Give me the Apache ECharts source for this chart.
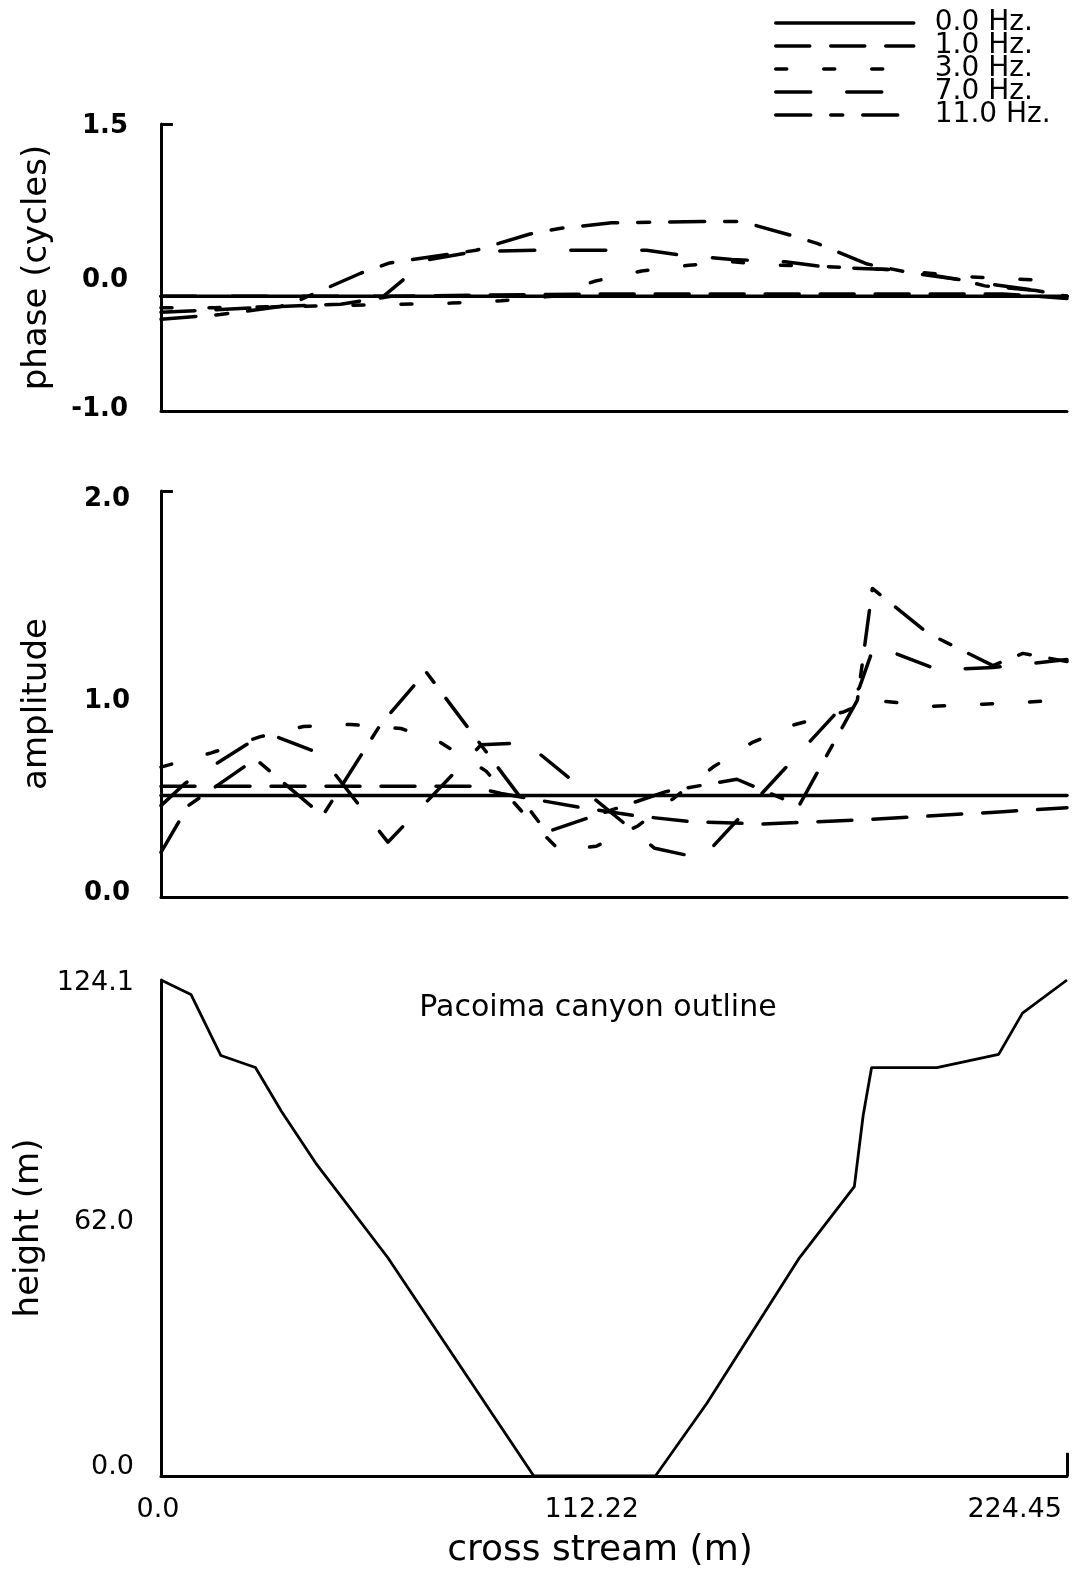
<!DOCTYPE html>
<html>
<head>
<meta charset="utf-8">
<script src="https://cdn.jsdelivr.net/npm/echarts@6/dist/echarts.min.js"></script>
<style>
html,body{margin:0;padding:0;background:#fff;}
#c{width:1076px;height:1572px;}
</style>
</head>
<body>
<div id="c"></div>
<script>
// ---- data ----
const seriesNames = ['0.0 Hz.', '1.0 Hz.', '3.0 Hz.', '7.0 Hz.', '11.0 Hz.'];
const xTickValues = [0, 112.22, 224.45];
const xTickLabels = ['0.0', '112.22', '224.45'];
const xMax = 236;

// phase (cycles)
const phaseX0 = [0, 236];
const phase0 = [0, 0];
const phaseX1 = [0, 31.1, 46.8, 59.9, 114.7, 219.3, 236.0];
const phase1 = [-0.14, -0.09, -0.07, 0.0, 0.02, 0.02, -0.02];
const phaseX3 = [0, 14.1, 49.4, 75.5, 88.6, 101.9, 112.9, 125.2, 137.5, 148.7, 160.5, 172.2, 190.5, 210.1, 221.9, 236.0];
const phase3 = [-0.10, -0.10, -0.08, -0.06, -0.04, 0.0, 0.13, 0.22, 0.27, 0.30, 0.27, 0.26, 0.23, 0.17, 0.15, 0.13];
const phaseX7 = [0, 58.0, 63.0, 66.4, 82.1, 98.3, 116.6, 126.5, 135.1, 148.7, 162.6, 174.3, 192.4, 208.8, 227.9, 236.0];
const phase7 = [0.0, 0.0, 0.14, 0.30, 0.39, 0.40, 0.40, 0.40, 0.36, 0.32, 0.30, 0.25, 0.23, 0.14, 0.05, 0.0];
const phaseX11 = [0, 15.4, 31.1, 36.3, 52.0, 59.6, 82.1, 95.9, 103.8, 117.4, 140.9, 151.3, 163.1, 170.9, 184.0, 195.8, 208.8, 214.6, 227.9, 236.0];
const phase11 = [-0.20, -0.16, -0.09, -0.03, 0.20, 0.29, 0.40, 0.54, 0.59, 0.64, 0.65, 0.65, 0.54, 0.46, 0.28, 0.20, 0.14, 0.09, 0.05, 0.0];
const phaseTicks = ['-1.0', '0.0', '1.5'];

// amplitude
const ampX0 = [0, 236];
const amp0 = [0.5, 0.5];
const ampX1 = [0, 80.8, 88.6, 109.5, 123.9, 138.3, 156.6, 182.7, 201.0, 219.3, 236.0];
const amp1 = [0.545, 0.545, 0.51, 0.44, 0.40, 0.37, 0.36, 0.38, 0.40, 0.42, 0.44];
const ampX3 = [0, 13.1, 25.9, 37.1, 49.4, 62.5, 72.9, 84.7, 96.4, 103.8, 113.4, 124.2, 133.8, 143.8, 153.9, 165.2, 177.5, 185.3, 201.0, 214.1, 236.0];
const amp3 = [0.64, 0.71, 0.79, 0.84, 0.85, 0.83, 0.76, 0.62, 0.37, 0.23, 0.25, 0.35, 0.49, 0.64, 0.76, 0.85, 0.91, 0.97, 0.94, 0.95, 0.97];
const ampX7 = [0, 6.3, 27.2, 41.0, 59.1, 83.4, 95.1, 128.6, 140.9, 181.9, 185.8, 202.3, 216.7, 236.0];
const amp7 = [0.45, 0.56, 0.81, 0.71, 0.27, 0.75, 0.76, 0.24, 0.19, 1.03, 1.24, 1.12, 1.13, 1.17];
const ampX11 = [0, 7.1, 24.6, 42.1, 57.2, 69.0, 100.4, 131.7, 150.0, 166.2, 181.4, 185.3, 199.7, 216.7, 224.5, 236.0];
const amp11 = [0.22, 0.45, 0.68, 0.40, 0.85, 1.11, 0.32, 0.52, 0.58, 0.45, 0.97, 1.52, 1.30, 1.14, 1.20, 1.16];
const ampTicks = ['0.0', '1.0', '2.0'];

// canyon outline
const canyonX = [0, 7.8, 15.6, 24.6, 31.4, 40.3, 59.1, 97.1, 128.8, 142.2, 166.3, 180.6, 182.9, 185.1, 202.1, 218.2, 224.4, 236.0];
const canyonH = [124.1, 120.5, 105.2, 102.2, 91.2, 78.3, 54.6, 0, 0, 18.2, 54.6, 72.4, 90.2, 102.2, 102.2, 105.5, 115.8, 124.1];
const heightTicks = ['0.0', '62.0', '124.1'];

// ---- chart ----
const FONT = 'DejaVu Sans';
const dashes = {
  '0.0 Hz.': 'solid',
  '1.0 Hz.': [34, 21],
  '3.0 Hz.': [11, 37],
  '7.0 Hz.': [35, 36],
  '11.0 Hz.': [35, 20, 12, 20]
};
function pairs(xs, ys) { return xs.map((x, i) => [x, ys[i]]); }
function lineSeries(name, xs, ys, gi, extra) {
  return Object.assign({
    name: name, type: 'line', xAxisIndex: gi, yAxisIndex: gi,
    data: pairs(xs, ys), symbol: 'none', showSymbol: false,
    lineStyle: { color: '#000', width: 3.5, type: dashes[name], cap: 'round', join: 'round' },
    itemStyle: { color: '#000' },
    z: 3
  }, extra || {});
}
function shiftStyle(fs, weight, pad) {
  return { fontFamily: FONT, fontSize: fs, fontWeight: weight, color: '#000', padding: pad };
}
const tickMark = (x0, x1, y0, y1) => ({
  silent: true, symbol: ['none', 'none'], label: { show: false },
  lineStyle: { color: '#000', width: 3, type: 'solid' },
  emphasis: { disabled: true },
  data: [[{ coord: [x0, y0] }, { coord: [x1, y1] }]]
});

function xAxisCfg(gi, showLabels) {
  return {
    type: 'value', gridIndex: gi, min: 0, max: xMax, interval: 112.22,
    axisLine: { show: true, onZero: false, lineStyle: { color: '#000', width: 3 } },
    axisTick: { show: false }, splitLine: { show: false },
    axisLabel: {
      show: showLabels, margin: 20, showMaxLabel: false,
      fontFamily: FONT, fontSize: 27, color: '#000',
      formatter: function (v) {
        for (let i = 0; i < xTickValues.length; i++) {
          if (Math.abs(v - xTickValues[i]) < 0.5) return '{t' + i + '|' + xTickLabels[i] + '}';
        }
        return '';
      },
      rich: {
        t0: shiftStyle(27, 'normal', [0, 6, 0, 0]),
        t1: shiftStyle(27, 'normal', [0, 0, 0, 0]),
        t2: shiftStyle(27, 'normal', [0, 16, 0, 0])
      }
    },
    name: showLabels ? 'cross stream (m)' : '',
    nameLocation: 'middle', nameGap: 57,
    nameTextStyle: { fontFamily: FONT, fontSize: 36, color: '#000', padding: [0, 28, 0, 0] }
  };
}

const option = {
  animation: false,
  backgroundColor: '#fff',
  title: {
    text: 'Pacoima canyon outline', left: 593, top: 988, textAlign: 'center',
    textStyle: { fontFamily: FONT, fontSize: 30, fontWeight: 'normal', color: '#000' }
  },
  legend: {
    data: seriesNames, orient: 'vertical', left: 769, top: 4,
    itemWidth: 138, itemHeight: 14, itemGap: -5, selectedMode: false,
    lineStyle: { width: 3.5 },
    itemStyle: { color: 'rgba(0,0,0,0)', borderWidth: 0, opacity: 0 },
    textStyle: { fontFamily: FONT, fontSize: 28, color: '#000', padding: [0, 0, 0, 16] }
  },
  grid: [
    { left: 161, right: 9, top: 124, height: 287 },
    { left: 161, right: 9, top: 491, height: 406 },
    { left: 161, right: 9, top: 980, height: 496 }
  ],
  xAxis: [xAxisCfg(0, false), xAxisCfg(1, false), xAxisCfg(2, true)],
  yAxis: [
    {
      type: 'value', gridIndex: 0, min: -1, max: 1.5, interval: 0.5,
      axisLine: { show: true, onZero: false, lineStyle: { color: '#000', width: 3 } },
      axisTick: { show: false }, splitLine: { show: false },
      axisLabel: {
        margin: 33, fontFamily: FONT, fontSize: 26, fontWeight: 'bold', color: '#000',
        formatter: function (v) {
          if (Math.abs(v + 1) < 1e-6) return '{a|' + phaseTicks[0] + '}';
          if (Math.abs(v) < 1e-6) return '{b|' + phaseTicks[1] + '}';
          if (Math.abs(v - 1.5) < 1e-6) return '{c|' + phaseTicks[2] + '}';
          return '';
        },
        rich: {
          a: shiftStyle(26, 'bold', [0, 0, 4, 0]),
          b: shiftStyle(26, 'bold', [0, 0, 32, 0]),
          c: shiftStyle(26, 'bold', [4, 0, 0, 0])
        }
      },
      name: 'phase (cycles)', nameLocation: 'middle', nameGap: 107,
      nameTextStyle: { fontFamily: FONT, fontSize: 34, color: '#000' }
    },
    {
      type: 'value', gridIndex: 1, min: 0, max: 2, interval: 1,
      axisLine: { show: true, onZero: false, lineStyle: { color: '#000', width: 3 } },
      axisTick: { show: false }, splitLine: { show: false },
      axisLabel: {
        margin: 31, fontFamily: FONT, fontSize: 26, fontWeight: 'bold', color: '#000',
        formatter: function (v) {
          const i = Math.round(v);
          return ['{a|', '{b|', '{c|'][i] + ampTicks[i] + '}';
        },
        rich: {
          a: shiftStyle(26, 'bold', [0, 0, 8, 0]),
          b: shiftStyle(26, 'bold', [14, 0, 0, 0]),
          c: shiftStyle(26, 'bold', [16, 0, 0, 0])
        }
      },
      name: 'amplitude', nameLocation: 'middle', nameGap: 107,
      nameTextStyle: { fontFamily: FONT, fontSize: 34, color: '#000', padding: [0, 20, 0, 0] }
    },
    {
      type: 'value', gridIndex: 2, min: 0, max: 124.1, interval: 62.05,
      axisLine: { show: true, onZero: false, lineStyle: { color: '#000', width: 3 } },
      axisTick: { show: false }, splitLine: { show: false },
      axisLabel: {
        margin: 27, fontFamily: FONT, fontSize: 27, color: '#000',
        formatter: function (v) {
          const i = Math.round(v / 62.05);
          return ['{a|', '{b|', '{c|'][i] + heightTicks[i] + '}';
        },
        rich: {
          a: shiftStyle(27, 'normal', [0, 0, 18, 0]),
          b: shiftStyle(27, 'normal', [0, 0, 12, 0]),
          c: shiftStyle(27, 'normal', [6, 0, 0, 0])
        }
      },
      name: 'height (m)', nameLocation: 'middle', nameGap: 107,
      nameTextStyle: { fontFamily: FONT, fontSize: 34, color: '#000' }
    }
  ],
  series: [
    lineSeries('0.0 Hz.', phaseX0, phase0, 0, { markLine: tickMark(0, 3.1, 1.5, 1.5) }),
    lineSeries('1.0 Hz.', phaseX1, phase1, 0),
    lineSeries('3.0 Hz.', phaseX3, phase3, 0),
    lineSeries('7.0 Hz.', phaseX7, phase7, 0),
    lineSeries('11.0 Hz.', phaseX11, phase11, 0),
    lineSeries('0.0 Hz.', ampX0, amp0, 1, { markLine: tickMark(0, 3.1, 2, 2) }),
    lineSeries('1.0 Hz.', ampX1, amp1, 1),
    lineSeries('3.0 Hz.', ampX3, amp3, 1),
    lineSeries('7.0 Hz.', ampX7, amp7, 1),
    lineSeries('11.0 Hz.', ampX11, amp11, 1),
    {
      name: 'canyon', type: 'line', xAxisIndex: 2, yAxisIndex: 2,
      data: pairs(canyonX, canyonH), symbol: 'none',
      lineStyle: { color: '#000', width: 2.8 },
      markLine: tickMark(xMax, xMax, 0, 5.8)
    }
  ]
};
const chart = echarts.init(document.getElementById('c'), null, { renderer: 'canvas' });
chart.setOption(option);
</script>
</body>
</html>
